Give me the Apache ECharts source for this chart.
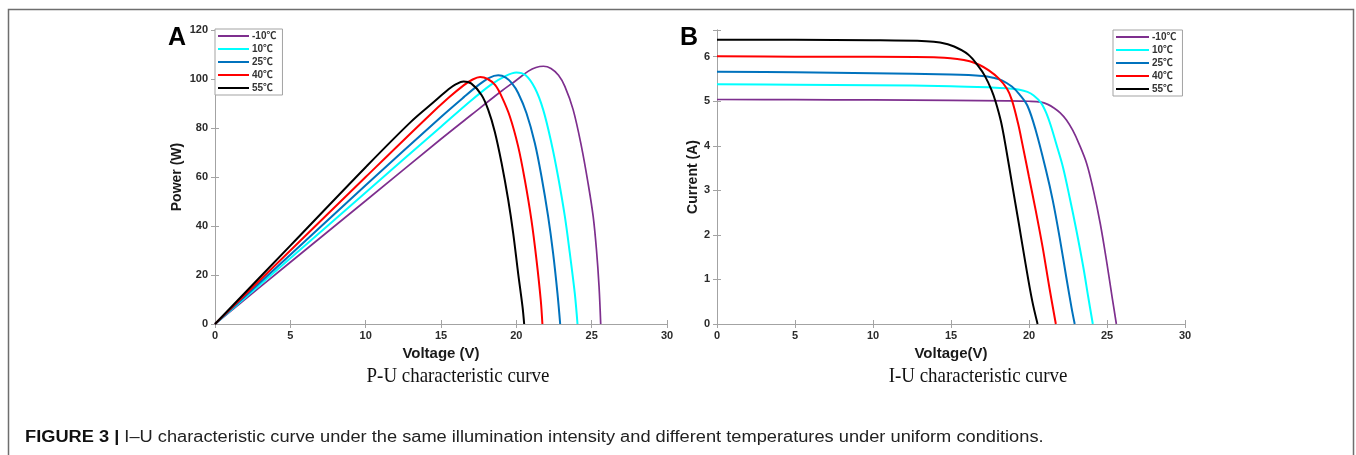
<!DOCTYPE html>
<html><head><meta charset="utf-8">
<script src="https://cdn.jsdelivr.net/npm/echarts@6/dist/echarts.min.js"></script>
<style>html,body{margin:0;padding:0;background:#fff}#c{width:1356px;height:455px}</style>
</head><body><div id="c"></div>
<script>
const seriesNames = ['-10℃', '10℃', '25℃', '40℃', '55℃'];
const seriesColors = ['#7E2F8E', '#00FFFF', '#0072BD', '#FF0000', '#000000'];

// P-U curves: [voltage V, power W]
const puMinus10 = [[0,0],[5,25.2],[10,50.3],[15,75.5],[17,85.3],[19,95.0],[20,99.5],[20.8,103.2],[21.3,104.7],[21.8,105.2],[22.3,104.3],[22.8,101.5],[23.22,97.0],[23.77,87.5],[24.32,72.5],[24.76,57.5],[25.1,43.9],[25.32,30.2],[25.49,15.3],[25.6,0]];
const pu10 = [[0,0],[5,26.8],[10,53.7],[15,80.5],[17,91.2],[18.3,97.6],[19.2,101.0],[20.0,102.7],[20.6,101.6],[21.23,96.3],[21.78,87.5],[22.33,73.8],[22.77,60.2],[23.22,43.9],[23.55,28.9],[23.88,12.5],[24.06,0]];
const pu25 = [[0,0],[5,28.3],[10,56.6],[15,84.5],[16.5,92.5],[17.5,97.6],[18.2,100.5],[18.8,101.5],[19.3,100.6],[19.7,98.3],[20.12,94.3],[20.67,86.1],[21.23,73.8],[21.67,60.2],[22.11,43.9],[22.44,28.9],[22.73,12.5],[22.91,0]];
const pu40 = [[0,0],[5,30],[10,60],[14,83.8],[15.5,92.3],[16.5,97.4],[17.1,99.8],[17.6,100.8],[18.1,100.0],[18.6,97.5],[19.02,92.9],[19.57,84.7],[20.12,72.5],[20.56,58.9],[21.0,42.5],[21.34,26.1],[21.62,9.8],[21.73,0]];
const pu55 = [[0,0],[5,32],[10,64],[13,82.5],[14.5,90.5],[15.5,95.8],[16.0,97.9],[16.5,99.0],[17.0,98.2],[17.69,93.5],[18.13,87.5],[18.57,78.5],[19.02,65.7],[19.46,50.7],[19.79,37.1],[20.12,20.7],[20.41,7.1],[20.52,0]];

// I-U curves: [voltage V, current A]
const iuMinus10 = [[0,5.04],[5,5.035],[10,5.03],[15,5.02],[18.6,5.01],[20,5.0],[20.76,4.98],[21.2,4.93],[21.6,4.85],[22.0,4.74],[22.4,4.58],[22.8,4.35],[23.2,4.05],[23.7,3.6],[24.13,3.0],[24.57,2.25],[25.0,1.35],[25.33,0.6],[25.6,0]];
const iu10 = [[0,5.38],[5,5.37],[10,5.36],[15,5.34],[17.6,5.31],[18.6,5.29],[19.4,5.26],[19.9,5.21],[20.3,5.13],[20.76,4.97],[21.09,4.75],[21.4,4.45],[21.74,4.05],[22.17,3.53],[22.6,2.85],[23.04,2.1],[23.48,1.28],[23.8,0.6],[24.09,0]];
const iu25 = [[0,5.66],[5,5.65],[10,5.63],[15,5.6],[17.0,5.57],[17.7,5.53],[18.26,5.47],[18.9,5.33],[19.4,5.15],[19.9,4.9],[20.43,4.35],[21.09,3.45],[21.52,2.78],[21.96,1.95],[22.39,1.05],[22.72,0.38],[22.93,0]];
const iu40 = [[0,6.01],[5,6.0],[10,6.0],[13.9,5.99],[15.4,5.95],[16.2,5.9],[16.8,5.82],[17.4,5.7],[18.04,5.52],[18.59,5.28],[18.91,5.02],[19.3,4.5],[19.57,4.05],[20.0,3.3],[20.43,2.55],[20.87,1.73],[21.3,0.83],[21.72,0]];
const iu55 = [[0,6.38],[5,6.38],[10,6.37],[13.4,6.35],[14.3,6.32],[15.2,6.23],[16.1,6.05],[16.75,5.79],[17.17,5.57],[17.6,5.25],[17.87,4.98],[18.2,4.55],[18.5,4.0],[18.91,3.15],[19.35,2.25],[19.78,1.35],[20.2,0.53],[20.55,0]];

const voltageTicks = [0, 5, 10, 15, 20, 25, 30];
const powerTicks = [0, 20, 40, 60, 80, 100, 120];
const currentTicks = [0, 1, 2, 3, 4, 5, 6];
const currentMax = 6.6;

const puData = [puMinus10, pu10, pu25, pu40, pu55];
const iuData = [iuMinus10, iu10, iu25, iu40, iu55];

const SANS = "'Liberation Sans', 'Noto Sans CJK SC', sans-serif";
const axisGray = '#a3a3a3';
const labelColor = '#2b2b2b';

function step(a) { return a[1] - a[0]; }

function mainX(grid, name) {
  return {
    gridIndex: grid, type: 'value', position: 'bottom',
    min: voltageTicks[0], max: voltageTicks[voltageTicks.length - 1], interval: step(voltageTicks),
    name: name, nameLocation: 'middle', nameGap: 20,
    nameTextStyle: { fontFamily: SANS, fontWeight: 'bold', fontSize: 15, color: '#1a1a1a', verticalAlign: 'top' },
    axisLine: { show: true, lineStyle: { color: axisGray, width: 1 } },
    axisTick: { show: true, inside: true, length: 4, lineStyle: { color: axisGray } },
    axisLabel: { fontFamily: SANS, fontWeight: 'bold', fontSize: 11, color: labelColor, margin: 6 },
    splitLine: { show: false }
  };
}
function sideX(grid) {
  return {
    gridIndex: grid, type: 'value', position: 'top',
    min: voltageTicks[0], max: voltageTicks[voltageTicks.length - 1], interval: step(voltageTicks),
    axisLine: { show: true, lineStyle: { color: axisGray, width: 1 } },
    axisTick: { show: true, inside: true, length: 4, lineStyle: { color: axisGray } },
    axisLabel: { show: false }, splitLine: { show: false }
  };
}
function mainY(grid, name, ticks, max, gap) {
  return {
    gridIndex: grid, type: 'value', position: 'left',
    min: ticks[0], max: max, interval: step(ticks),
    name: name, nameLocation: 'middle', nameGap: gap,
    nameTextStyle: { fontFamily: SANS, fontWeight: 'bold', fontSize: 14, color: '#1a1a1a' },
    axisLine: { show: true, lineStyle: { color: axisGray, width: 1 } },
    axisTick: { show: true, inside: true, length: 4, lineStyle: { color: axisGray } },
    axisLabel: {
      fontFamily: SANS, fontWeight: 'bold', fontSize: 11, color: labelColor, margin: 7,
      formatter: v => (Number.isInteger(v) ? String(v) : '')
    },
    splitLine: { show: false }
  };
}
function sideY(grid, ticks, max) {
  return {
    gridIndex: grid, type: 'value', position: 'right',
    min: ticks[0], max: max, interval: step(ticks),
    axisLine: { show: true, lineStyle: { color: axisGray, width: 1 } },
    axisTick: { show: true, inside: true, length: 4, lineStyle: { color: axisGray } },
    axisLabel: { show: false }, splitLine: { show: false }
  };
}

const series = [];
function addSeries(dataList, xi, yi) {
  seriesNames.forEach((n, i) => {
    series.push({
      type: 'line', name: n, xAxisIndex: xi, yAxisIndex: yi, data: dataList[i],
      showSymbol: false, symbol: 'none', smooth: 0.35,
      lineStyle: { color: seriesColors[i], width: i === 0 ? 1.7 : 2 }, itemStyle: { color: seriesColors[i] },
      animation: false
    });
  });
}
addSeries(puData, 0, 0);
addSeries(iuData, 2, 2);

function legendAt(left, top, w) {
  return {
    orient: 'vertical', left: left, top: top,
    data: seriesNames,
    icon: 'rect', itemWidth: w, itemHeight: 2, itemGap: 3,
    padding: [2, 6, 2, 3],
    borderColor: axisGray, borderWidth: 1, backgroundColor: '#fff',
    selectedMode: false,
    textStyle: { fontFamily: SANS, fontWeight: 'bold', fontSize: 10, color: '#333', lineHeight: 10, padding: [0, 0, 0, -2] }
  };
}

const chart = echarts.init(document.getElementById('c'), null, { renderer: 'canvas' });
chart.setOption({
  animation: false,
  backgroundColor: '#fff',
  grid: [
    { left: 215, top: 30, width: 452, height: 294 },
    { left: 717, top: 30, width: 468, height: 294 }
  ],
  xAxis: [mainX(0, 'Voltage (V)'), sideX(0), mainX(1, 'Voltage(V)'), sideX(1)],
  yAxis: [
    mainY(0, 'Power (W)', powerTicks, powerTicks[powerTicks.length - 1], 31),
    sideY(0, powerTicks, powerTicks[powerTicks.length - 1]),
    mainY(1, 'Current (A)', currentTicks, currentMax, 16),
    sideY(1, currentTicks, currentMax)
  ],
  legend: [legendAt(215, 29, 31), legendAt(1113, 30, 33)],
  series: series,
  graphic: [
    { type: 'rect', shape: { x: 8.5, y: 9.5, width: 1345, height: 470 }, style: { fill: 'none', stroke: '#6e6e6e', lineWidth: 1.5 }, silent: true },
    { type: 'text', x: 168, y: 38, style: { text: 'A', font: "bold 25px 'Liberation Sans'", fill: '#000', verticalAlign: 'middle' } },
    { type: 'text', x: 680, y: 38, style: { text: 'B', font: "bold 25px 'Liberation Sans'", fill: '#000', verticalAlign: 'middle' } },
    { type: 'text', x: 458, y: 376, scaleX: 0.86, originX: 0, style: { text: 'P-U characteristic curve', font: "22px 'Liberation Serif'", fill: '#111', align: 'center', verticalAlign: 'middle' } },
    { type: 'text', x: 978, y: 376, scaleX: 0.86, originX: 0, style: { text: 'I-U characteristic curve', font: "22px 'Liberation Serif'", fill: '#111', align: 'center', verticalAlign: 'middle' } },
    { type: 'text', x: 25, y: 438, scaleX: 1.14, originX: 0, style: {
        text: '{b|FIGURE 3 |} I–U characteristic curve under the same illumination intensity and different temperatures under uniform conditions.',
        font: "16px 'Liberation Sans'", fill: '#222', verticalAlign: 'middle',
        rich: { b: { font: "bold 16px 'Liberation Sans'", fill: '#111' } } } }
  ]
});
</script></body></html>
